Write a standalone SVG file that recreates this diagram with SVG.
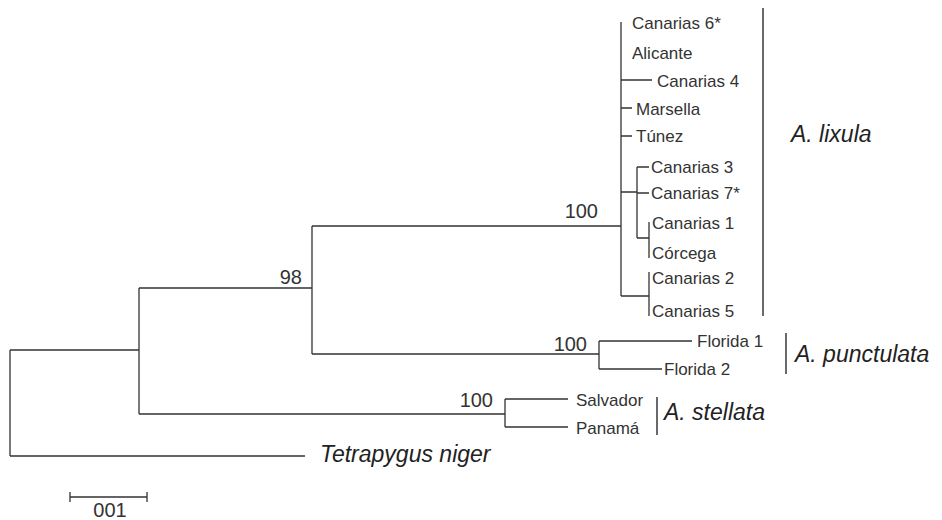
<svg xmlns="http://www.w3.org/2000/svg" width="942" height="520" viewBox="0 0 942 520">
<style>
.br{stroke:#333;stroke-width:1.3;fill:none}
.bar{stroke:#444;stroke-width:1.6;fill:none}
.lf{font-family:"Liberation Sans",Arial,sans-serif;font-size:17px;fill:#333}
.sp{font-family:"Liberation Sans",Arial,sans-serif;font-size:23px;font-style:italic;fill:#222}
.bs{font-family:"Liberation Sans",Arial,sans-serif;font-size:20px;fill:#333}
</style>
<rect width="942" height="520" fill="#fff"/>
<g id="connectors">
<path class="br" d="M10 350V456M10 350H139M10 456H305"/>
<path class="br" d="M139 288V414M139 288H312M139 414H505"/>
<path class="br" d="M312 226V354M312 226H621M312 354H599"/>
<path class="br" d="M621 22V296M621 80H652M621 108H632M621 136H632M621 192H637M621 296H649"/>
<path class="br" d="M637 167V238M637 167H649M637 193H649M637 238H649M649 222V258"/>
<path class="br" d="M649 272V316"/>
<path class="br" d="M599 341V369M599 341H692M599 369H662"/>
<path class="br" d="M505 399V427M505 399H568M505 427H568"/>
</g>
<g id="leaves">
<g id="canarias6"><text class="lf" x="632" y="29">Canarias 6*</text></g>
<g id="alicante"><text class="lf" x="632" y="59">Alicante</text></g>
<g id="canarias4"><text class="lf" x="657" y="87">Canarias 4</text></g>
<g id="marsella"><text class="lf" x="636" y="115">Marsella</text></g>
<g id="tunez"><text class="lf" x="636" y="142">Túnez</text></g>
<g id="canarias3"><text class="lf" x="651" y="173">Canarias 3</text></g>
<g id="canarias7"><text class="lf" x="651" y="199">Canarias 7*</text></g>
<g id="canarias1"><text class="lf" x="652" y="229">Canarias 1</text></g>
<g id="corcega"><text class="lf" x="652" y="259">Córcega</text></g>
<g id="canarias2"><text class="lf" x="652" y="284">Canarias 2</text></g>
<g id="canarias5"><text class="lf" x="652" y="317">Canarias 5</text></g>
<g id="florida1"><text class="lf" x="697" y="347">Florida 1</text></g>
<g id="florida2"><text class="lf" x="664" y="375">Florida 2</text></g>
<g id="salvador"><text class="lf" x="576" y="406">Salvador</text></g>
<g id="panama"><text class="lf" x="576" y="434">Panamá</text></g>
<g id="tetrapygus"><text class="sp" x="320" y="462">Tetrapygus niger</text></g>
</g>
<g id="supports">
<text class="bs" x="598" y="218" text-anchor="end">100</text>
<text class="bs" x="302" y="284" text-anchor="end">98</text>
<text class="bs" x="587" y="351" text-anchor="end">100</text>
<text class="bs" x="493" y="407" text-anchor="end">100</text>
</g>
<g id="lixula">
<line class="bar" x1="763" y1="8" x2="763" y2="316"/>
<text class="sp" x="791" y="142">A. lixula</text>
</g>
<g id="punctulata">
<line class="bar" x1="786" y1="333" x2="786" y2="374"/>
<text class="sp" x="795" y="362">A. punctulata</text>
</g>
<g id="stellata">
<line class="bar" x1="657" y1="397" x2="657" y2="435"/>
<text class="sp" x="664" y="420">A. stellata</text>
</g>
<g id="scale">
<path class="br" d="M70 497H147M70 492V502M147 492V502"/>
<text class="bs" x="110" y="517" text-anchor="middle">001</text>
</g>
</svg>
